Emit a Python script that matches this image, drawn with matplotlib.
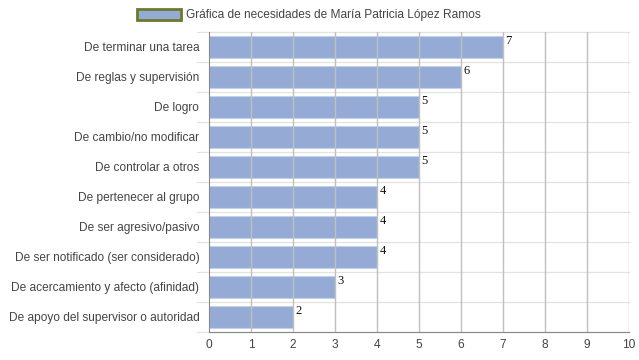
import matplotlib.pyplot as plt
from matplotlib.patches import Patch

# --- Data ---
categories = [
    'De terminar una tarea',
    'De reglas y supervisión',
    'De logro',
    'De cambio/no modificar',
    'De controlar a otros',
    'De pertenecer al grupo',
    'De ser agresivo/pasivo',
    'De ser notificado (ser considerado)',
    'De acercamiento y afecto (afinidad)',
    'De apoyo del supervisor o autoridad',
]
values = [7, 6, 5, 5, 5, 4, 4, 4, 3, 2]
legend_label = 'Gráfica de necesidades de María Patricia López Ramos'
x_ticks = list(range(0, 11))

plt.rcParams['font.family'] = ['Liberation Sans', 'DejaVu Sans']

BAR = '#95abd6'
TXT = '#444444'

fig = plt.figure(figsize=(6.39, 3.6), dpi=100)
ax = fig.add_axes([209 / 639, 28 / 360, 420 / 639, 300 / 360])

n = len(categories)
ypos = list(range(n))
ax.barh(ypos, values, height=0.74, color=BAR, edgecolor='#c5d0ea',
        linewidth=0.8, zorder=1)

for y, v in zip(ypos, values):
    ax.text(v + 0.06, y - 0.2, str(v), family='Liberation Serif',
            fontsize=9, color='#111111', ha='left', va='center', zorder=4)

ax.set_xlim(0, 10)
ax.set_ylim(n - 0.5, -0.5)
ax.set_xticks(x_ticks)
ax.set_yticks(ypos)
ax.set_yticklabels(categories)
ax.tick_params(axis='y', length=0, pad=7, labelsize=8.6, labelcolor=TXT)
ax.tick_params(axis='x', length=0, pad=5, labelsize=8.6, labelcolor=TXT)

# vertical grid over the bars
for t in x_ticks[1:]:
    ax.axvline(t, color='#c0c0c0', linewidth=1.0, zorder=3)

# row separators extending a little into the label area
for b in range(n + 1):
    ax.plot([-0.29, 10], [b - 0.5, b - 0.5], color='#e2e2e2', linewidth=0.9,
            zorder=0, clip_on=False)

for s in ['top', 'right']:
    ax.spines[s].set_visible(False)
ax.spines['left'].set_color('#888888')
ax.spines['left'].set_zorder(5)
ax.spines['bottom'].set_color('#888888')

handle = Patch(facecolor=BAR, edgecolor='#6b7a2e', linewidth=2)
fig.legend(handles=[handle], labels=[legend_label], loc='center left',
           bbox_to_anchor=(137 / 639, 1 - 15 / 360), frameon=False,
           fontsize=8.6, labelcolor=TXT, handlelength=3.7, handleheight=1.05,
           handletextpad=0.4, borderpad=0, borderaxespad=0)

fig.savefig('out.png', dpi=100)
